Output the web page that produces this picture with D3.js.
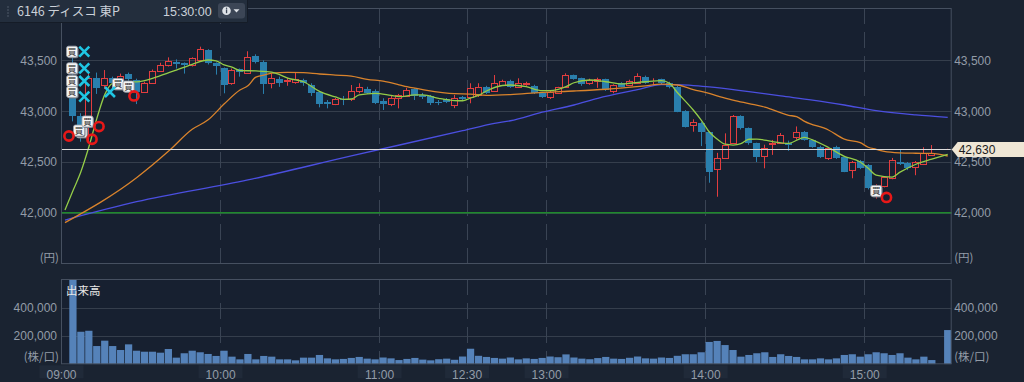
<!DOCTYPE html>
<html><head><meta charset="utf-8">
<script src="https://cdn.jsdelivr.net/npm/d3@7/dist/d3.min.js"></script>
<style>
html,body{margin:0;padding:0;background:#1a2331;overflow:hidden;}
svg{display:block;}
</style></head>
<body>
<svg id="chart" width="1024" height="382"></svg>
<script>
// ---------------- DATA ----------------
const barTimes = ["09:03","09:06","09:09","09:12","09:15","09:18","09:21","09:24","09:27","09:30",
"09:33","09:36","09:39","09:42","09:45","09:48","09:51","09:54","09:57","10:00",
"10:03","10:06","10:09","10:12","10:15","10:18","10:21","10:24","10:27","10:30",
"10:33","10:36","10:39","10:42","10:45","10:48","10:51","10:54","10:57","11:00",
"11:03","11:06","11:09","11:12","11:15","11:18","11:21","11:24","11:27","11:30",
"12:30","12:33","12:36","12:39","12:42","12:45","12:48","12:51","12:54","12:57",
"13:00","13:03","13:06","13:09","13:12","13:15","13:18","13:21","13:24","13:27",
"13:30","13:33","13:36","13:39","13:42","13:45","13:48","13:51","13:54","13:57",
"14:00","14:03","14:06","14:09","14:12","14:15","14:18","14:21","14:24","14:27",
"14:30","14:33","14:36","14:39","14:42","14:45","14:48","14:51","14:54","14:57",
"15:00","15:03","15:06","15:09","15:12","15:15","15:18","15:21","15:24","15:30"];

const openP = [43350,42950,42880,43330,43257,43323,43280,43366,43310,43192,
43280,43399,43452,43487,43470,43455,43505,43600,43470,43422,
43275,43412,43380,43545,43485,43280,43314,43298,43290,43307,
43258,43192,43094,43068,43120,43117,43202,43215,43202,43103,
43071,43127,43152,43215,43160,43150,43094,43117,43061,43140,
43143,43160,43235,43202,43258,43300,43241,43265,43248,43182,
43137,43182,43235,43356,43324,43275,43300,43314,43202,43275,
43258,43280,43340,43298,43314,43280,43241,43005,42864,42887,
42798,42428,42536,42684,42955,42832,42684,42559,42677,42690,
42684,42749,42798,42716,42651,42536,42651,42552,42421,42510,
42470,42230,42264,42340,42503,42493,42454,42480,42566,42630];

const highP = [43560,42980,43400,43380,43405,43340,43370,43380,43320,43290,
43410,43477,43530,43510,43480,43530,43635,43610,43480,43430,
43420,43420,43590,43560,43500,43373,43340,43330,43379,43320,
43275,43200,43110,43130,43150,43258,43275,43240,43215,43127,
43150,43170,43230,43225,43180,43160,43110,43130,43160,43150,
43275,43275,43250,43356,43310,43310,43324,43290,43260,43190,
43200,43240,43373,43360,43330,43320,43330,43320,43265,43285,
43310,43373,43350,43324,43320,43290,43250,43010,42920,42895,
42800,42590,42782,42963,42960,42840,42690,42670,42717,42785,
42710,42850,42805,42720,42660,42640,42660,42560,42510,42520,
42480,42280,42360,42540,42618,42500,42510,42645,42667,42630];

const lowP = [42900,42700,42700,43170,43220,43200,43260,43300,43070,43180,
43270,43390,43440,43420,43370,43440,43500,43460,43360,43176,
43260,43340,43375,43470,43170,43225,43240,43250,43270,43250,
43150,43038,43028,43060,43060,43100,43176,43170,43070,43012,
43050,43028,43140,43110,43120,43060,43060,43080,43030,43100,
43078,43140,43170,43190,43250,43230,43230,43250,43170,43130,
43120,43170,43230,43310,43250,43260,43230,43200,43176,43235,
43250,43275,43270,43250,43265,43225,42990,42840,42798,42657,
42296,42158,42530,42680,42820,42670,42500,42438,42570,42685,
42610,42720,42710,42640,42540,42520,42530,42400,42340,42430,
42230,42140,42250,42330,42470,42420,42370,42470,42560,42630];

const closeP = [42950,42850,43330,43230,43323,43280,43345,43314,43190,43275,
43399,43455,43497,43465,43455,43520,43609,43470,43440,43258,
43405,43383,43535,43480,43265,43324,43280,43305,43317,43275,
43176,43071,43071,43117,43110,43202,43235,43182,43084,43071,
43127,43160,43209,43152,43137,43078,43078,43094,43127,43120,
43231,43241,43182,43280,43297,43241,43275,43280,43182,43143,
43192,43235,43356,43317,43268,43307,43314,43209,43258,43241,
43300,43346,43280,43302,43275,43235,42995,42847,42897,42798,
42405,42536,42667,42955,42832,42684,42552,42635,42690,42766,
42667,42798,42716,42651,42552,42635,42536,42405,42503,42440,
42241,42265,42350,42520,42480,42438,42503,42586,42586,42630];

const volume = [720000,230000,237000,129000,167000,129000,101000,141000,96000,89000,
89000,82000,108000,47000,78000,96000,85000,73000,59000,96000,
54000,35000,73000,35000,59000,54000,35000,35000,28000,47000,
47000,66000,42000,35000,38000,45000,52000,40000,35000,48000,
42000,30000,38000,45000,33000,28000,36000,40000,32000,55000,
110000,60000,52000,45000,40000,48000,35000,42000,38000,45000,
55000,50000,70000,48000,40000,36000,44000,52000,40000,38000,
46000,55000,42000,40000,48000,45000,60000,71000,71000,85000,
158000,165000,136000,101000,54000,66000,78000,85000,52000,71000,
59000,52000,35000,35000,42000,35000,42000,66000,71000,54000,
71000,85000,78000,66000,78000,47000,35000,54000,30000,242000];

// moving averages
const maShortTimes = ["09:00","09:03","09:06","09:09","09:12","09:15","09:18","09:21","09:27","09:30","09:36","09:42","09:48","09:54","09:57","10:00","10:03","10:06","10:12","10:18","10:21","10:24","10:30","10:36","10:42","10:45","10:48","10:51","10:57","11:03","11:06","11:12","11:15","11:21","11:27","11:30","12:30","12:33","12:36","12:42","12:45","12:51","12:57","13:00","13:06","13:09","13:15","13:21","13:27","13:30","13:36","13:42","13:45","13:48","13:54","13:57","14:00","14:03","14:06","14:09","14:12","14:15","14:18","14:24","14:30","14:36","14:39","14:45","14:51","14:57","15:00","15:03","15:09","15:12","15:18","15:24","15:30"];
const maShortValues = [42028,42217,42404,42648,42927,43163,43275,43290,43288,43300,43350,43405,43462,43504,43496,43455,43433,43400,43396,43385,43360,43326,43290,43195,43140,43117,43120,43160,43176,43155,43143,43160,43160,43127,43105,43103,43130,43155,43199,43253,43258,43241,43202,43202,43241,43280,43307,43290,43268,43275,43290,43300,43275,43184,43012,42913,42798,42726,42675,42667,42680,42724,42726,42700,42684,42743,42717,42643,42556,42500,42438,42372,42352,42400,42478,42528,42576];

const maMidTimes = ["09:00","09:27","09:39","09:48","09:54","10:00","10:06","10:09","10:12","10:15","10:18","10:24","10:30","10:36","10:42","10:48","10:54","11:00","11:06","11:09","11:15","11:27","12:30","12:36","12:45","12:57","13:09","13:21","13:36","13:42","13:48","13:54","14:00","14:03","14:09","14:15","14:21","14:30","14:33","14:36","14:45","14:51","14:57","15:00","15:03","15:06","15:12","15:18","15:24","15:30"];
const maMidValues = [41903,42345,42605,42822,42915,43070,43209,43250,43335,43356,43375,43383,43379,43366,43356,43346,43314,43295,43260,43241,43212,43172,43169,43156,43164,43186,43199,43216,43250,43266,43258,43213,43176,43150,43110,43075,43040,42960,42946,42900,42815,42725,42690,42645,42625,42605,42590,42586,42584,42559];

const maLongTimes = ["09:00","09:27","10:09","10:48","11:30","12:39","12:45","12:57","13:09","13:18","13:33","13:42","13:48","13:54","14:00","14:15","14:27","14:39","14:51","15:03","15:18","15:30"];
const maLongValues = [41929,42109,42323,42560,42808,42881,42906,42990,43061,43127,43212,43262,43262,43252,43240,43192,43150,43110,43061,43005,42963,42940];

const prevClose = 42000;
const lastPrice = 42630;

const priceTicks = [42000, 42500, 43000, 43500];
const volumeTicks = [200000, 400000];
const timeTicks = ["09:00","10:00","11:00","12:30","13:00","14:00","15:00"];

// trade markers (label text shown only where visible in the chart)
const buyTimes  = ["09:02:40","09:02:40","09:02:40","09:02:40","09:06:14","09:05:17","09:08:30","09:20:01","09:23:58","15:03:00"];
const buyPrices = [43586,43422,43297,43190,42795,42810,42899,43268,43243,42215];
const buyShowText = [true,true,true,true,false,true,true,true,true,true];
const lossTimes  = ["09:07:17","09:07:17","09:07:17","09:07:17","09:16:58"];
const lossPrices = [43586,43422,43297,43143,43189];
const winTimes  = ["09:01:30","09:10:12","09:12:50","09:26:02","15:06:54"];
const winPrices = [42756,42724,42849,43150,42151];

const titleText = "6146 ディスコ 東P";
const clockText = "15:30:00";

// ---------------- LAYOUT / SCALES ----------------
const W = 1024, H = 382;
const L = 61, R = 951.7, PT = 8, PB = 264, VT = 279, VB = 364.3;
const BG = '#1a2331', PLOT = '#172030', GRID = '#353e4c', FRAME = '#465060', TXT = '#939ca8';
const NUMFONT = '"Liberation Sans", Arial, sans-serif';
const JFONT = '"Noto Sans CJK JP", "Noto Sans", sans-serif';

const x = d3.scaleLinear().domain([0, 112]).range([L, R]);
function slotOf(t) {
  const p = t.split(':').map(Number);
  const m = p[0] * 60 + p[1] + (p[2] || 0) / 60;
  return m <= 690 ? (m - 540) / 3 : 51 + (m - 750) / 3;
}
const cx = t => x(slotOf(t) + 0.5);
const slotW = x(1) - x(0);
const y = d3.scaleLinear().domain([41500, 44000]).range([263.6, 9.6]);
const yv = d3.scaleLinear().domain([0, 600000]).range([364.3, 279.4]);

const svg = d3.select('#chart');
svg.append('rect').attr('width', W).attr('height', H).attr('fill', BG);

const defs = svg.append('defs');
defs.append('clipPath').attr('id', 'cp').append('rect').attr('x', L).attr('y', PT).attr('width', R - L).attr('height', PB - PT);
defs.append('clipPath').attr('id', 'cv').append('rect').attr('x', L).attr('y', VT).attr('width', R - L).attr('height', VB - VT);

// panel backgrounds
svg.append('rect').attr('x', L).attr('y', PT).attr('width', R - L).attr('height', PB - PT).attr('fill', PLOT);
svg.append('rect').attr('x', L).attr('y', VT).attr('width', R - L).attr('height', VB - VT).attr('fill', PLOT);

// horizontal grid
const crisp = v => Math.round(v) + 0.5;
svg.append('g').selectAll('line').data(priceTicks).join('line')
  .attr('x1', L).attr('x2', R).attr('y1', d => crisp(y(d))).attr('y2', d => crisp(y(d)))
  .attr('stroke', GRID).attr('stroke-width', 1);
svg.append('g').selectAll('line').data(volumeTicks).join('line')
  .attr('x1', L).attr('x2', R).attr('y1', d => crisp(yv(d))).attr('y2', d => crisp(yv(d)))
  .attr('stroke', GRID).attr('stroke-width', 1);

// vertical dashed grid
const vTicks = timeTicks.slice(1);
svg.append('g').selectAll('line').data(vTicks).join('line')
  .attr('x1', d => crisp(x(slotOf(d)))).attr('x2', d => crisp(x(slotOf(d))))
  .attr('y1', PT).attr('y2', PB).attr('stroke', '#3a4454').attr('stroke-dasharray', '16,8');
svg.append('g').selectAll('line').data(vTicks).join('line')
  .attr('x1', d => crisp(x(slotOf(d)))).attr('x2', d => crisp(x(slotOf(d))))
  .attr('y1', VT).attr('y2', VB).attr('stroke', '#3a4454').attr('stroke-dasharray', '16,8');

// previous close line
svg.append('line').attr('x1', L).attr('x2', R).attr('y1', y(prevClose)).attr('y2', y(prevClose))
  .attr('stroke', '#1f8a2c').attr('stroke-width', 1.6);

// ---------------- CANDLES ----------------
const bars = barTimes.map((t, i) => ({ t, o: openP[i], h: highP[i], l: lowP[i], c: closeP[i], v: volume[i] }));
const UP = '#e23d3f', DOWN = '#2a7fad';
const gc = svg.append('g').attr('clip-path', 'url(#cp)');
const bodyW = 7;
bars.forEach(b => {
  const up = b.c >= b.o;
  const col = up ? UP : DOWN;
  const left = Math.round(cx(b.t) - bodyW / 2);
  const wx = left + bodyW / 2;
  const top = Math.round(y(Math.max(b.o, b.c)));
  const bot = Math.round(y(Math.min(b.o, b.c)));
  const yh = y(b.h), yl = y(b.l);
  if (up) {
    if (yh < top) gc.append('line').attr('x1', wx).attr('x2', wx).attr('y1', yh).attr('y2', top).attr('stroke', col);
    if (yl > bot + 1) gc.append('line').attr('x1', wx).attr('x2', wx).attr('y1', bot + 1).attr('y2', yl).attr('stroke', col);
    gc.append('rect').attr('x', left + 0.5).attr('y', top + 0.5).attr('width', bodyW - 1)
      .attr('height', Math.max(bot - top, 0)).attr('fill', 'none').attr('stroke', col).attr('stroke-width', 1);
  } else {
    gc.append('line').attr('x1', wx).attr('x2', wx).attr('y1', yh).attr('y2', yl).attr('stroke', col);
    gc.append('rect').attr('x', left).attr('y', top).attr('width', bodyW)
      .attr('height', Math.max(bot - top, 1)).attr('fill', col);
  }
});

// ---------------- MOVING AVERAGES ----------------
const line = d3.line().x(d => cx(d[0])).y(d => y(d[1])).curve(d3.curveMonotoneX);
const gma = svg.append('g').attr('clip-path', 'url(#cp)').attr('fill', 'none');
gma.append('path').attr('d', line(d3.zip(maLongTimes, maLongValues))).attr('stroke', '#4b4fe0').attr('stroke-width', 1.3);
gma.append('path').attr('d', line(d3.zip(maMidTimes, maMidValues))).attr('stroke', '#d9832c').attr('stroke-width', 1.3);
gma.append('path').attr('d', line(d3.zip(maShortTimes, maShortValues))).attr('stroke', '#94cc48').attr('stroke-width', 1.3);

// current price line
svg.append('line').attr('x1', L).attr('x2', R).attr('y1', crisp(y(lastPrice))).attr('y2', crisp(y(lastPrice)))
  .attr('stroke', '#dcdcdc').attr('stroke-width', 1.2);

// ---------------- VOLUME ----------------
svg.append('g').attr('clip-path', 'url(#cv)').selectAll('rect').data(bars).join('rect')
  .attr('x', d => cx(d.t) - (slotW - 0.7) / 2).attr('width', slotW - 0.7)
  .attr('y', d => yv(d.v)).attr('height', d => yv(0) - yv(d.v))
  .attr('fill', '#5582b9');

// panel frames
svg.append('rect').attr('x', L + 0.5).attr('y', PT + 0.5).attr('width', R - L - 1).attr('height', PB - PT - 1)
  .attr('fill', 'none').attr('stroke', FRAME);
svg.append('rect').attr('x', L + 0.5).attr('y', VT + 0.5).attr('width', R - L - 1).attr('height', VB - VT - 1)
  .attr('fill', 'none').attr('stroke', FRAME);

// ---------------- MARKERS ----------------
const gm = svg.append('g');
buyTimes.forEach((t, i) => {
  const g = gm.append('g').attr('transform', `translate(${cx(t)},${y(buyPrices[i])})`);
  g.append('rect').attr('x', -4.5).attr('y', -4.5).attr('width', 11).attr('height', 11).attr('rx', 2).attr('fill', '#6d737c');
  g.append('rect').attr('x', -5.5).attr('y', -5.5).attr('width', 11).attr('height', 11).attr('rx', 2)
    .attr('fill', '#f4f4f4').attr('stroke', '#9aa0a8').attr('stroke-width', 0.8);
  if (buyShowText[i]) {
    g.append('text').attr('x', 0).attr('y', 3.2).attr('text-anchor', 'middle')
      .attr('font-family', JFONT).attr('font-size', 8.5).attr('fill', '#3a3a3a').text('買');
  }
});
lossTimes.forEach((t, i) => {
  const px = cx(t), py = y(lossPrices[i]);
  gm.append('path').attr('d', `M${px - 5},${py - 5}L${px + 5},${py + 5}M${px + 5},${py - 5}L${px - 5},${py + 5}`)
    .attr('stroke', '#1fc6e4').attr('stroke-width', 2.6).attr('fill', 'none');
});
winTimes.forEach((t, i) => {
  gm.append('circle').attr('cx', cx(t)).attr('cy', y(winPrices[i])).attr('r', 4.6)
    .attr('fill', 'none').attr('stroke', '#e81818').attr('stroke-width', 2.6);
});

// ---------------- AXES ----------------
function styleAxis(g) {
  g.select('.domain').remove();
  g.selectAll('text').attr('fill', TXT).attr('font-family', NUMFONT).attr('font-size', 12);
}
svg.append('g').attr('transform', `translate(${L},0)`)
  .call(d3.axisLeft(y).tickValues(priceTicks).tickFormat(d3.format(',')).tickSize(0).tickPadding(4)).call(styleAxis);
svg.append('g').attr('transform', `translate(${R},0)`)
  .call(d3.axisRight(y).tickValues(priceTicks).tickFormat(d3.format(',')).tickSize(0).tickPadding(2.5)).call(styleAxis);
svg.append('g').attr('transform', `translate(${L},0)`)
  .call(d3.axisLeft(yv).tickValues(volumeTicks).tickFormat(d3.format(',')).tickSize(0).tickPadding(4)).call(styleAxis);
svg.append('g').attr('transform', `translate(${R},0)`)
  .call(d3.axisRight(yv).tickValues(volumeTicks).tickFormat(d3.format(',')).tickSize(0).tickPadding(2.5)).call(styleAxis);

// unit labels
const unit = (tx, ty, anchor, s) => svg.append('text').attr('x', tx).attr('y', ty).attr('text-anchor', anchor)
  .attr('fill', TXT).attr('font-family', JFONT).attr('font-size', 11.5).text(s);
unit(L - 2, 262, 'end', '(円)');
unit(R + 2.5, 262, 'start', '(円)');
unit(L - 2, 361, 'end', '(株/口)');
unit(R + 2.5, 361, 'start', '(株/口)');

svg.append('text').attr('x', 66).attr('y', 295).attr('fill', '#e8e8e8')
  .attr('font-family', JFONT).attr('font-size', 11.5).text('出来高');

// time axis
const ta = svg.append('g').attr('transform', `translate(0,${VB})`)
  .call(d3.axisBottom(x).tickValues(timeTicks.map(slotOf)).tickFormat((d, i) => timeTicks[i]).tickSize(0).tickPadding(6));
ta.select('.domain').remove();
ta.selectAll('.tick').insert('rect', 'text').attr('x', -22).attr('y', 1).attr('width', 44).attr('height', 13).attr('fill', '#202a39');
ta.selectAll('text').attr('fill', TXT).attr('font-family', NUMFONT).attr('font-size', 12);

// current price tag
const yc = crisp(y(lastPrice));
svg.append('path').attr('d', `M${R},${yc}L${R + 6},${yc - 7.5}L${W},${yc - 7.5}L${W},${yc + 7.5}L${R + 6},${yc + 7.5}Z`)
  .attr('fill', '#efe6d5');
svg.append('text').attr('x', R + 7).attr('y', yc + 4.3).attr('fill', '#1c1c1c')
  .attr('font-family', NUMFONT).attr('font-size', 12).text(d3.format(',')(lastPrice));

// ---------------- HEADER ----------------
svg.append('rect').attr('x', 0).attr('y', 0).attr('width', 247).attr('height', 22.5).attr('fill', '#232e3d');
svg.append('line').attr('x1', 0).attr('x2', 247).attr('y1', 22.5).attr('y2', 22.5).attr('stroke', '#151c27');
svg.append('line').attr('x1', 247.5).attr('x2', 247.5).attr('y1', 0).attr('y2', 22.5).attr('stroke', '#151c27');
svg.append('g').selectAll('circle').data(d3.range(4)).join('circle')
  .attr('cx', 8).attr('cy', d => 7 + d * 3).attr('r', 0.8).attr('fill', '#56606e');
svg.append('text').attr('x', 17).attr('y', 15.5).attr('fill', '#cbd1d9')
  .attr('font-family', JFONT).attr('font-size', 12.5).text(titleText);
svg.append('text').attr('x', 163).attr('y', 15.5).attr('fill', '#cbd1d9')
  .attr('font-family', NUMFONT).attr('font-size', 12.5).text(clockText);
svg.append('rect').attr('x', 218).attr('y', 3).attr('width', 27).attr('height', 15.5).attr('rx', 3).attr('fill', '#3c4656');
svg.append('circle').attr('cx', 226.5).attr('cy', 10.8).attr('r', 4.3).attr('fill', '#dfe3e8');
svg.append('rect').attr('x', 225.9).attr('y', 9.4).attr('width', 1.3).attr('height', 3.8).attr('fill', '#3c4656');
svg.append('circle').attr('cx', 226.55).attr('cy', 8.2).attr('r', 0.75).attr('fill', '#3c4656');
svg.append('path').attr('d', 'M233.5,9.2L239.5,9.2L236.5,12.6Z').attr('fill', '#dfe3e8');
</script>
</body></html>
